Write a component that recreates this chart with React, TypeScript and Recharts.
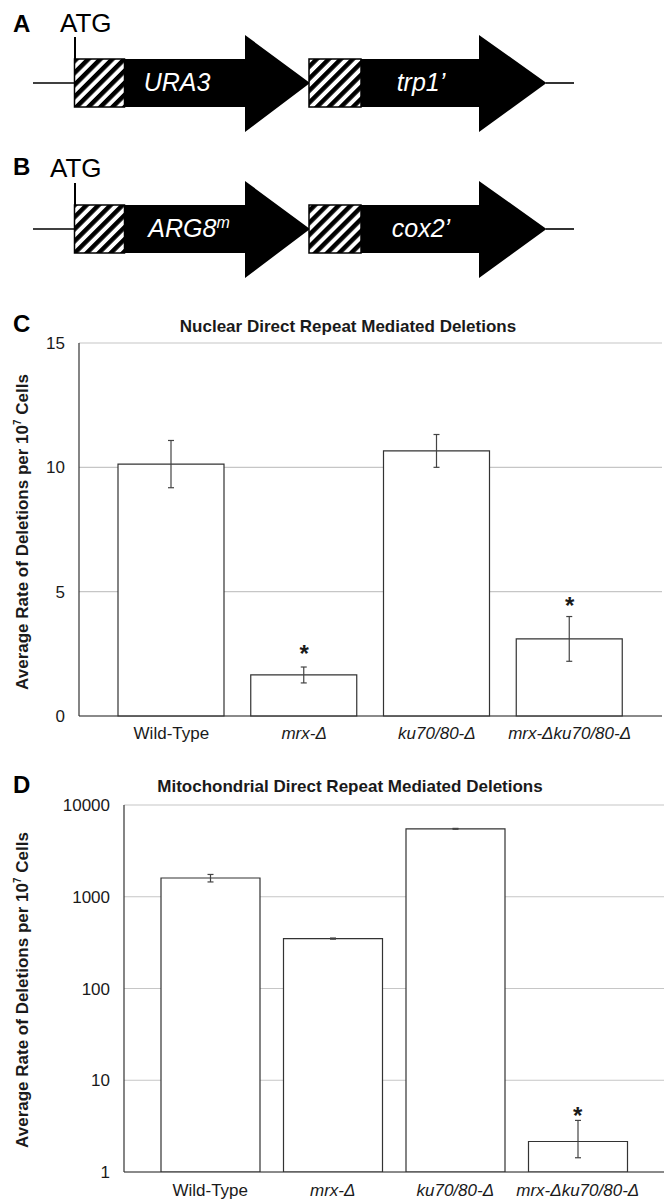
import React from 'react';
import { ComposedChart, Bar, Line, XAxis, YAxis, CartesianGrid, ErrorBar } from 'recharts';

// ---------- data ----------
const categories = ['Wild-Type', 'mrx-Δ', 'ku70/80-Δ', 'mrx-Δku70/80-Δ'];
const italicCategory = [false, true, true, true];

const nuclearRates = [10.13, 1.65, 10.66, 3.1];
const nuclearErr = [0.95, 0.32, 0.66, 0.9];
const nuclearStars = [null, 2.75, null, 4.65];
const nuclearTicks = [0, 5, 10, 15];

const mitoRates = [1600, 350, 5500, 2.15];
const mitoErrLow = [150, 5, 60, 0.72];
const mitoErrHigh = [150, 5, 60, 1.5];
const mitoStars = [null, null, null, 4.7];
const mitoTicks = [1, 10, 100, 1000, 10000];

const nuclearData = categories.map((name, i) => ({
  name,
  value: nuclearRates[i],
  err: nuclearErr[i],
  star: nuclearStars[i],
}));

const mitoData = categories.map((name, i) => ({
  name,
  value: mitoRates[i],
  err: [mitoErrLow[i], mitoErrHigh[i]],
  star: mitoStars[i],
}));

// ---------- styles ----------
const FONT = '"Liberation Sans", Arial, Helvetica, sans-serif';
const TEXT = '#1a1a1a';
const LINE = '#333333';
const GRID = '#c6c6c6';

const CategoryTick = (props: any) => {
  const { x, y, payload, index } = props;
  const idx = categories.indexOf(payload.value);
  const italic = idx >= 0 ? italicCategory[idx] : false;
  return (
    <text
      x={x}
      y={y}
      dy="0.71em"
      textAnchor="middle"
      fontFamily={FONT}
      fontSize={17}
      fontStyle={italic ? 'italic' : 'normal'}
      fill={TEXT}
      key={index}
    >
      {payload.value}
    </text>
  );
};

const StarDot = (props: any) => {
  const { cx, cy, payload, index } = props;
  if (payload == null || payload.star == null || cy == null || isNaN(cy)) {
    return <g key={`s-${index}`} />;
  }
  return (
    <text
      key={`s-${index}`}
      x={cx}
      y={cy + 14}
      textAnchor="middle"
      fontFamily={FONT}
      fontWeight="bold"
      fontSize={24}
      fill={TEXT}
    >
      *
    </text>
  );
};

const yTick = { fontSize: 17, fill: TEXT, fontFamily: FONT };

function NuclearChart() {
  return (
    <ComposedChart
      width={670}
      height={450}
      data={nuclearData}
      margin={{ top: 43, right: 8, bottom: 0, left: 0 }}
    >
      <CartesianGrid horizontal vertical={false} stroke={GRID} strokeWidth={1.2} />
      <XAxis
        dataKey="name"
        height={34}
        tickLine={false}
        tickMargin={5}
        axisLine={{ stroke: LINE, strokeWidth: 1.2 }}
        padding={{ left: 26, right: 26 }}
        tick={<CategoryTick />}
        interval={0}
      />
      <XAxis xAxisId="top" orientation="top" dataKey="name" height={0} tick={false} tickLine={false}
        axisLine={{ stroke: LINE, strokeWidth: 1.2 }} />
      <YAxis
        type="number"
        domain={[0, 15]}
        ticks={nuclearTicks}
        interval={0}
        width={79}
        tickLine={false}
        tickMargin={8}
        axisLine={{ stroke: LINE, strokeWidth: 1.2 }}
        tick={yTick}
      />
      <YAxis yAxisId="right" orientation="right" width={0} tick={false} tickLine={false}
        axisLine={{ stroke: LINE, strokeWidth: 1.2 }} />
      <Bar dataKey="value" fill="#ffffff" stroke={LINE} strokeWidth={1.2} barSize={106} isAnimationActive={false}>
        <ErrorBar dataKey="err" width={3} stroke="#444" strokeWidth={1.2} direction="y" isAnimationActive={false} />
      </Bar>
      <Line dataKey="star" stroke="none" dot={<StarDot />} activeDot={false} isAnimationActive={false} connectNulls={false} />
    </ComposedChart>
  );
}

function MitoChart() {
  return (
    <ComposedChart
      width={670}
      height={440}
      data={mitoData}
      margin={{ top: 45, right: 6, bottom: 0, left: 0 }}
    >
      <CartesianGrid horizontal vertical={false} stroke={GRID} strokeWidth={1.2} />
      <XAxis
        dataKey="name"
        height={28}
        tickLine={false}
        tickMargin={6}
        axisLine={{ stroke: LINE, strokeWidth: 1.2 }}
        padding={{ left: 25, right: 25 }}
        tick={<CategoryTick />}
        interval={0}
      />
      <XAxis xAxisId="top" orientation="top" dataKey="name" height={0} tick={false} tickLine={false}
        axisLine={{ stroke: LINE, strokeWidth: 1.2 }} />
      <YAxis
        type="number"
        scale="log"
        domain={[1, 10000]}
        ticks={mitoTicks}
        interval={0}
        width={124}
        tickLine={false}
        tickMargin={8}
        axisLine={{ stroke: LINE, strokeWidth: 1.2 }}
        tick={yTick}
        allowDataOverflow
      />
      <YAxis yAxisId="right" orientation="right" width={0} tick={false} tickLine={false}
        axisLine={{ stroke: LINE, strokeWidth: 1.2 }} />
      <Bar dataKey="value" fill="#ffffff" stroke={LINE} strokeWidth={1.2} barSize={99} isAnimationActive={false}>
        <ErrorBar dataKey="err" width={3} stroke="#444" strokeWidth={1.2} direction="y" isAnimationActive={false} />
      </Bar>
      <Line dataKey="star" stroke="none" dot={<StarDot />} activeDot={false} isAnimationActive={false} connectNulls={false} />
    </ComposedChart>
  );
}

function GeneConstruct({ dy, label1, label2, sup }: { dy: number; label1: string; label2: string; sup?: string }) {
  const y = 83 + dy;
  const top = 59 + dy;
  const bot = 107 + dy;
  const hTop = 35 + dy;
  const hBot = 132 + dy;
  return (
    <g>
      <line x1={33} y1={y} x2={74} y2={y} stroke="#000" strokeWidth={1.6} />
      <line x1={546} y1={y} x2={574} y2={y} stroke="#000" strokeWidth={1.6} />
      <line x1={75} y1={37 + dy} x2={75} y2={y} stroke="#000" strokeWidth={2} />
      <polygon
        points={`124,${top} 245,${top} 245,${hTop} 310,${y} 245,${hBot} 245,${bot} 124,${bot}`}
        fill="#000"
      />
      <polygon
        points={`361,${top} 479,${top} 479,${hTop} 546.5,${y} 479,${hBot} 479,${bot} 361,${bot}`}
        fill="#000"
      />
      <rect x={74.5} y={top} width={50} height={48} fill="url(#hatch)" stroke="#000" strokeWidth={1.5} />
      <rect x={309} y={top} width={52} height={48} fill="url(#hatch)" stroke="#000" strokeWidth={1.5} />
      <text x={sup ? 189 : 177} y={y + 8} textAnchor="middle" fill="#fff" fontFamily={FONT} fontStyle="italic" fontSize={25}>
        {label1}
        {sup ? <tspan dy={-9} fontSize={16}>{sup}</tspan> : null}
      </text>
      <text x={421} y={y + 8} textAnchor="middle" fill="#fff" fontFamily={FONT} fontStyle="italic" fontSize={25}>
        {label2}
      </text>
    </g>
  );
}

function Overlay() {
  return (
    <svg width={670} height={1200} style={{ position: 'absolute', left: 0, top: 0, pointerEvents: 'none' }}>
      <defs>
        <pattern id="hatch" width={8.5} height={8.5} patternUnits="userSpaceOnUse" patternTransform="rotate(45)">
          <rect x={0} y={0} width={8.5} height={8.5} fill="#fff" />
          <rect x={0} y={0} width={4.5} height={8.5} fill="#000" />
        </pattern>
      </defs>
      {/* Panel A */}
      <text x={13} y={32} fontFamily={FONT} fontWeight="bold" fontSize={24} fill="#000">A</text>
      <text x={60} y={32} fontFamily={FONT} fontSize={26} fill="#000">ATG</text>
      <GeneConstruct dy={0} label1="URA3" label2="trp1’" />
      {/* Panel B */}
      <text x={13} y={175} fontFamily={FONT} fontWeight="bold" fontSize={24} fill="#000">B</text>
      <text x={50} y={177} fontFamily={FONT} fontSize={26} fill="#000">ATG</text>
      <GeneConstruct dy={146} label1="ARG8" sup="m" label2="cox2’" />

      {/* Panel C */}
      <text x={13} y={332} fontFamily={FONT} fontWeight="bold" fontSize={24} fill="#000">C</text>
      <text x={348} y={332} textAnchor="middle" fontFamily={FONT} fontWeight="bold" fontSize={17} fill={TEXT}>
        Nuclear Direct Repeat Mediated Deletions
      </text>
      <g transform="translate(28,532) rotate(-90)">
        <text x={0} y={0} textAnchor="middle" fontFamily={FONT} fontWeight="bold" fontSize={17} fill={TEXT}>
          Average Rate of Deletions per 10<tspan dy={-7} fontSize={10}>7</tspan><tspan dy={7}> Cells</tspan>
        </text>
      </g>

      {/* Panel D */}
      <text x={13} y={793} fontFamily={FONT} fontWeight="bold" fontSize={24} fill="#000">D</text>
      <text x={350} y={792} textAnchor="middle" fontFamily={FONT} fontWeight="bold" fontSize={17} fill={TEXT}>
        Mitochondrial Direct Repeat Mediated Deletions
      </text>
      <g transform="translate(28,990) rotate(-90)">
        <text x={0} y={0} textAnchor="middle" fontFamily={FONT} fontWeight="bold" fontSize={17} fill={TEXT}>
          Average Rate of Deletions per 10<tspan dy={-7} fontSize={10}>7</tspan><tspan dy={7}> Cells</tspan>
        </text>
      </g>
    </svg>
  );
}

export default function App() {
  return (
    <div style={{ position: 'absolute', left: 0, top: 0, width: 670, height: 1200, background: '#fff', overflow: 'hidden' }}>
      <div style={{ position: 'absolute', left: 0, top: 300, width: 670, height: 450 }}>
        <NuclearChart />
      </div>
      <div style={{ position: 'absolute', left: 0, top: 760, width: 670, height: 440 }}>
        <MitoChart />
      </div>
      <Overlay />
    </div>
  );
}
